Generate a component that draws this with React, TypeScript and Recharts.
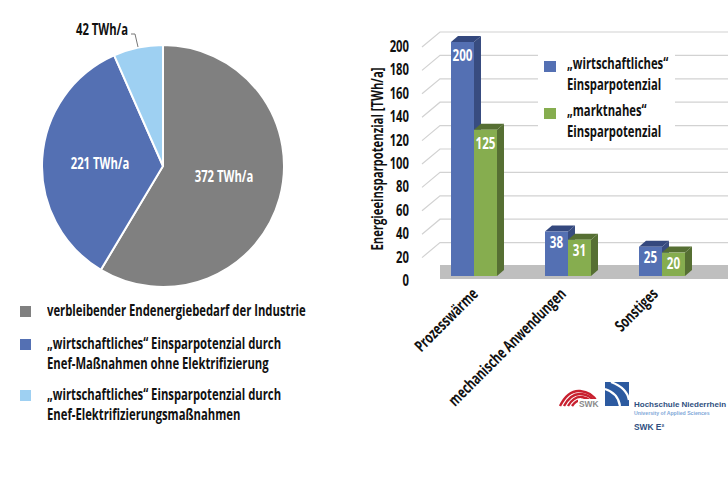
// Pie of final energy demand plus 3D-looking bar chart of savings potential
import { Bar, BarChart, CartesianGrid, Cell, LabelList, Pie, PieChart, XAxis, YAxis } from "recharts";

const sliceNames = [
  "verbleibender Endenergiebedarf der Industrie",
  "„wirtschaftliches“ Einsparpotenzial durch Enef-Maßnahmen ohne Elektrifizierung",
  "„wirtschaftliches“ Einsparpotenzial durch Enef-Elektrifizierungsmaßnahmen",
];
const sliceValues = [372, 221, 42];
const categories = ["Prozesswärme", "mechanische Anwendungen", "Sonstiges"];
const wirtschaftlich = [200, 38, 25];
const marktnah = [125, 31, 20];
const yTicks = [0, 20, 40, 60, 80, 100, 120, 140, 160, 180, 200];

// no condensed font is installed, so text gets squeezed horizontally
const FONT = '"Open Sans", sans-serif';
const SQUEEZE = 0.705;
const SLICE_COLORS = ["#808080", "#5470B3", "#9ED0F2"];
const BLUE = { front: "#5470B3", top: "#34487E", side: "#384C80" };
const GREEN = { front: "#86AD4F", top: "#566F33", side: "#566F33" };
const GRID = "#D2D2D2";

const pieData = sliceNames.map((name, i) => ({ name, value: sliceValues[i] }));
const barData = categories.map((name, i) => ({
  name,
  wirtschaftlich: wirtschaftlich[i],
  marktnah: marktnah[i],
}));

const sliceLabelPos = [
  { x: 224, y: 176, fill: "#fff" },
  { x: 100, y: 163, fill: "#fff" },
  { x: 102, y: 29, fill: "#111" },
];
// the rotated labels do not sit evenly under their groups
const tickNudge = [5, -1, -3];

function Narrow({ x, y, rotate = 0, anchor = "middle", fill = "#111", size = 16, children }: any) {
  return (
    <text
      transform={`translate(${x} ${y}) rotate(${rotate}) scale(${SQUEEZE} 1)`}
      textAnchor={anchor}
      fontFamily={FONT}
      fontWeight={700}
      fontSize={size}
      fill={fill}
    >
      {children}
    </text>
  );
}

function SliceLabel(props: any) {
  const pos = sliceLabelPos[props.index];
  return (
    <g>
      {props.index === 2 && <path d="M131 34 H135 L138 47" fill="none" stroke="#777" strokeWidth={1} />}
      <Narrow x={pos.x} y={pos.y + 6} fill={pos.fill}>{props.value} TWh/a</Narrow>
    </g>
  );
}

function Box3D(props: any, c: typeof BLUE) {
  const { x, y, width: w, height: h } = props;
  const dx = 7;
  const dy = 6;
  return (
    <g>
      <polygon points={`${x},${y} ${x + dx},${y - dy} ${x + w + dx},${y - dy} ${x + w},${y}`} fill={c.top} />
      <polygon points={`${x + w},${y} ${x + w + dx},${y - dy} ${x + w + dx},${y + h - dy} ${x + w},${y + h}`} fill={c.side} />
      <rect x={x} y={y} width={w} height={h} fill={c.front} />
    </g>
  );
}

function BarValue(props: any) {
  const { x, y, width, height, value } = props;
  return (
    <Narrow x={x + width / 2} y={y + (height > 100 ? 19 : 16)} fill="#fff" size={16.5}>
      {value}
    </Narrow>
  );
}

function GridLine(props: any) {
  const y = props.y1;
  if (y > 270) {
    return <rect x={440} y={265} width={288} height={14} fill="#BFBFBF" />;
  }
  return <path d={`M422 ${y + 5} L440 ${y - 10} H728`} fill="none" stroke={GRID} strokeWidth={1.2} />;
}

function CategoryTick(props: any) {
  return (
    <Narrow x={props.x + tickNudge[props.index]} y={props.y + 11} rotate={-45} anchor="end">
      {props.payload.value}
    </Narrow>
  );
}

function LegendLines({ lines, color, top, boxTop }: { lines: string[]; color: string; top: number; boxTop: number }) {
  return (
    <div style={{ position: "absolute", left: 20, top, fontFamily: FONT, fontWeight: 700, fontSize: 16, lineHeight: "20px", color: "#111" }}>
      <div style={{ position: "absolute", left: 0, top: boxTop, width: 11, height: 11, background: color }} />
      <div style={{ marginLeft: 27, whiteSpace: "nowrap", transform: `scaleX(${SQUEEZE})`, transformOrigin: "left" }}>
        {lines.map((l) => <div key={l}>{l}</div>)}
      </div>
    </div>
  );
}

function BarLegend() {
  const rows = [
    { color: BLUE.front, text: ["„wirtschaftliches“", "Einsparpotenzial"], top: 53 },
    { color: GREEN.front, text: ["„marktnahes“", "Einsparpotenzial"], top: 100 },
  ];
  return (
    <div style={{ position: "absolute", left: 538, top: 50, width: 137, height: 86, background: "#fff" }}>
      {rows.map((r) => (
        <div key={r.top} style={{ position: "absolute", left: 6, top: r.top - 50, fontFamily: FONT, fontWeight: 700, fontSize: 16, lineHeight: "20.5px", color: "#111", whiteSpace: "nowrap" }}>
          <div style={{ position: "absolute", left: 0, top: 8, width: 12, height: 11, background: r.color }} />
          <div style={{ marginLeft: 23, transform: `scaleX(${SQUEEZE})`, transformOrigin: "left" }}>
            {r.text.map((t) => <div key={t}>{t}</div>)}
          </div>
        </div>
      ))}
    </div>
  );
}

function Logos() {
  return (
    <svg width={728} height={485} style={{ position: "absolute", left: 0, top: 0 }}>
      <g fill="none" stroke="#C8202F" strokeWidth={2.4}>
        <path d="M560 406 Q568 390 580 391 Q592 392 597 402" />
        <path d="M564 406 Q571 393 581 394 Q590 395 594 401" />
        <path d="M568 406 Q574 396 582 397 Q587 398 591 401" />
        <path d="M572 406 Q576 400 582 400" />
      </g>
      <rect x={578} y={399} width={22} height={9} fill="#fff" />
      <text x={579} y={407} fontFamily="Liberation Sans, sans-serif" fontWeight={700} fontSize={8.4} fill="#8A8A8A">SWK</text>
      <rect x={605} y={382} width={24} height={24} fill="#2C5AA0" />
      <path d="M611 382 Q627 388 629 400" fill="none" stroke="#fff" strokeWidth={2.4} />
      <path d="M605 389 Q618 393 620 406" fill="none" stroke="#fff" strokeWidth={2.2} />
      <text x={634} y={407} fontFamily="Liberation Sans, sans-serif" fontWeight={700} fontSize={8} fill="#2F4F80">Hochschule Niederrhein</text>
      <text x={634} y={415} fontFamily="Liberation Sans, sans-serif" fontWeight={700} fontSize={5.2} fill="#7FA8D8">University of Applied Sciences</text>
      <text x={634} y={430} fontFamily="Liberation Sans, sans-serif" fontWeight={700} fontSize={8.4} fill="#2F4F80">SWK E²</text>
    </svg>
  );
}

export default function App() {
  return (
    <div style={{ position: "absolute", left: 0, top: 0, width: 728, height: 485, overflow: "hidden", background: "#fff" }}>
      <div style={{ position: "absolute", left: 0, top: 0 }}>
        <PieChart width={340} height={300} margin={{ top: 0, right: 0, bottom: 0, left: 0 }}>
          <Pie
            data={pieData}
            dataKey="value"
            cx={163}
            cy={166}
            outerRadius={121}
            startAngle={90}
            endAngle={-270}
            stroke="#fff"
            strokeWidth={2}
            label={SliceLabel}
            labelLine={false}
            isAnimationActive={false}
          >
            {pieData.map((d, i) => <Cell key={d.name} fill={SLICE_COLORS[i]} />)}
          </Pie>
        </PieChart>
      </div>

      <LegendLines color={SLICE_COLORS[0]} top={300} boxTop={6} lines={[sliceNames[0]]} />
      <LegendLines color={SLICE_COLORS[1]} top={333} boxTop={6} lines={["„wirtschaftliches“ Einsparpotenzial durch", "Enef-Maßnahmen ohne Elektrifizierung"]} />
      <LegendLines color={SLICE_COLORS[2]} top={384} boxTop={6} lines={["„wirtschaftliches“ Einsparpotenzial durch", "Enef-Elektrifizierungsmaßnahmen"]} />

      <div style={{ position: "absolute", left: 0, top: 0 }}>
        <BarChart width={728} height={485} data={barData} margin={{ top: 42, right: 19, bottom: 0, left: 367 }} barSize={23} barGap={0} barCategoryGap={0}>
          <CartesianGrid horizontal={GridLine} vertical={false} />
          <YAxis
            domain={[0, 200]}
            ticks={yTicks}
            width={60}
            axisLine={false}
            tickLine={false}
            interval={0}
            tick={(p: any) => (
              <Narrow x={409} y={p.y + 10} anchor="end">{p.payload.value}</Narrow>
            )}
            label={{ content: () => <Narrow x={383} y={159} rotate={-90}>Energieeinsparpotenzial [TWh/a]</Narrow> }}
          />
          <XAxis dataKey="name" height={209} axisLine={false} tickLine={false} interval={0} tick={CategoryTick} />
          <Bar dataKey="wirtschaftlich" shape={(p: any) => Box3D(p, BLUE)} isAnimationActive={false}>
            <LabelList dataKey="wirtschaftlich" content={BarValue} />
          </Bar>
          <Bar dataKey="marktnah" shape={(p: any) => Box3D(p, GREEN)} isAnimationActive={false}>
            <LabelList dataKey="marktnah" content={BarValue} />
          </Bar>
        </BarChart>
      </div>

      <BarLegend />
      <Logos />
    </div>
  );
}
